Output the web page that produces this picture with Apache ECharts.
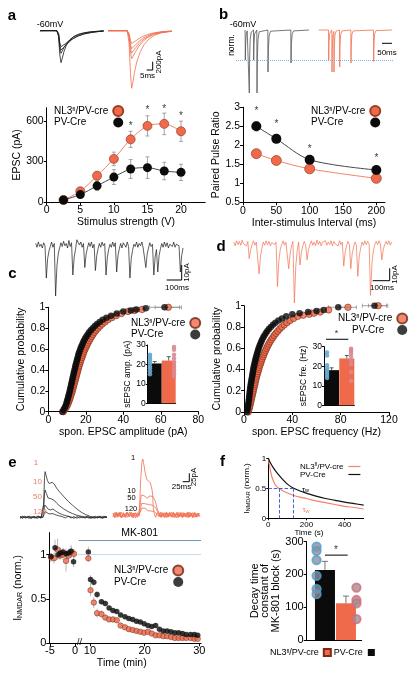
<!DOCTYPE html>
<html><head><meta charset="utf-8">
<script src="https://cdn.jsdelivr.net/npm/echarts@6/dist/echarts.min.js"></script>
<style>html,body{margin:0;padding:0;background:#fff}#c{width:414px;height:677px}</style>
</head><body><div id="c"></div>
<script>
// ---------------- DATA ----------------
// a: EPSC vs stimulus strength
const aVolt = [2.5,5,7.5,10,12.5,15,17.5,20];
const aNl3 = [15,80,195,320,465,565,580,525];
const aNl3Err = [10,15,30,50,60,75,80,75];
const aPv = [15,55,120,185,245,255,230,220];
const aPvErr = [8,15,35,55,70,80,65,60];
const aStarX = [12.5,15,17.5,20];
const aStarY = [565,680,688,640];
const aXTicks = [0,5,10,15,20];
const aYTicks = [0,300,600];
// a traces (ms, pA)
const aTrPv1 = [[0,0],[10,5],[14,0],[15.5,-150],[16.5,-600],[17.5,-800],[18.5,-700],[20,-520],[22,-360],[25,-230],[28,-150],[32,-90],[37,-50],[43,-25],[50,-10],[53,0]];
const aTrPv2 = [[0,0],[14,0],[15.5,-110],[16.5,-430],[17.5,-566],[18.5,-520],[20,-420],[22,-320],[25,-220],[28,-150],[32,-95],[37,-55],[43,-28],[50,-12],[53,-5]];
const aTrPv3 = [[0,0],[14,0],[15.5,-90],[16.5,-360],[17.5,-483],[19,-450],[21,-380],[24,-290],[27,-210],[31,-140],[36,-85],[42,-45],[48,-22],[53,-10]];
const aTrPv4 = [[0,0],[14,0],[15.5,-70],[16.5,-300],[17.5,-400],[19,-380],[21,-330],[24,-260],[28,-190],[32,-130],[37,-80],[43,-45],[48,-25],[53,-12]];
const aTrNl1 = [[0,0],[16,0],[17.5,-300],[18.8,-1100],[19.7,-1440],[20.7,-1300],[22,-1050],[24,-780],[27,-520],[30,-350],[34,-210],[39,-110],[45,-50],[53,-15]];
const aTrNl2 = [[0,0],[16,0],[17.5,-150],[18.8,-540],[19.7,-700],[21,-640],[23,-520],[26,-380],[29,-270],[33,-170],[38,-95],[44,-45],[53,-15]];
const aTrNl3 = [[0,0],[16,0],[17.5,-120],[18.8,-430],[19.7,-560],[21,-520],[23,-430],[26,-320],[29,-230],[33,-150],[38,-85],[44,-40],[53,-12]];
const aTrNl4 = [[0,0],[16,0],[17.5,-95],[18.8,-350],[19.7,-450],[21,-420],[23,-350],[26,-265],[29,-190],[33,-125],[38,-70],[44,-35],[53,-10]];
const aTrNl5 = [[0,0],[16,0],[17.5,-70],[18.8,-250],[19.7,-320],[21,-300],[23,-255],[26,-195],[29,-140],[33,-95],[38,-55],[44,-28],[53,-8]];

// b: paired pulse ratio
const bIsi = [20,50,100,200];
const bNl3 = [1.78,1.6,1.38,1.13];
const bNl3Err = [0.1,0.06,0.06,0.05];
const bPv = [2.5,2.17,1.62,1.35];
const bPvErr = [0.12,0.1,0.06,0.05];
const bStarY = [2.9,2.55,1.9,1.67];
const bXTicks = [0,50,100,150,200];
const bYTicks = [0.5,1,1.5,2,2.5,3];
const bTrPv = [[5,0],[6,-0.2],[6.5,-1.0],[8,-0.5],[11,-0.15],[16,-0.03],[25.5,0],[26.5,-2.1],[28,-1.0],[31,-0.3],[36,-0.07],[47.5,0],[48.5,-1.0],[50,-0.45],[53,-0.13],[64,0],[65,-2.1],[66.5,-1.0],[70,-0.3],[76,-0.06],[119,0],[120,-1.4],[122,-0.6],[126,-0.18],[133,-0.04],[234,0],[235,-1.1],[237,-0.45],[241,-0.13],[248,-0.03],[325,0]];
const bTrNl3 = [[33.5,0],[82.5,0],[83.5,-1.0],[85,-0.45],[88,-0.12],[99,0],[100,-1.4],[101.5,-0.65],[104,-0.2],[109,-0.05],[110,-1.4],[111.5,-0.65],[114,-0.2],[120,-0.04],[137.5,0],[138.5,-1.23],[140,-0.55],[143,-0.16],[150,-0.03],[194,0],[195,-1.1],[196.5,-0.5],[199.5,-0.14],[206,-0.03],[307.5,0],[308.5,-1.05],[310,-0.47],[313,-0.13],[320,-0.02],[400,0]];
const bNormLevel = -1;

// c: amplitude CDF
const cXTicks = [0,20,40,60,80];
const cdfYTicks = [0,0.2,0.4,0.6,0.8,1];
const cPvCdf = [[7.5,0],[8.2,0.02],[8.8,0.04],[9.3,0.06],[9.7,0.08],[10.0,0.1],[10.3,0.12],[10.6,0.14],[10.9,0.16],[11.2,0.18],[11.5,0.2],[11.7,0.22],[12.0,0.24],[12.2,0.26],[12.5,0.28],[12.7,0.3],[13.0,0.32],[13.2,0.34],[13.5,0.36],[13.7,0.38],[14.0,0.4],[14.3,0.42],[14.5,0.44],[14.8,0.46],[15.1,0.48],[15.4,0.5],[15.7,0.52],[16.0,0.54],[16.3,0.56],[16.7,0.58],[17.1,0.6],[17.5,0.62],[18.0,0.64],[18.5,0.66],[19.0,0.68],[19.6,0.7],[20.3,0.72],[21.0,0.74],[21.8,0.76],[22.7,0.78],[23.7,0.8],[24.8,0.82],[26.0,0.84],[27.4,0.86],[29.0,0.88],[31.0,0.9],[33.5,0.92],[36.5,0.94],[40,0.96],[44,0.97],[47,0.98],[52,0.99],[62,1]];
const cNl3Cdf = [[8.0,0],[8.8,0.02],[9.5,0.04],[10.1,0.06],[10.6,0.08],[11.0,0.1],[11.4,0.12],[11.8,0.14],[12.1,0.16],[12.5,0.18],[12.8,0.2],[13.1,0.22],[13.4,0.24],[13.7,0.26],[14.0,0.28],[14.3,0.3],[14.6,0.32],[14.9,0.34],[15.2,0.36],[15.5,0.38],[15.8,0.4],[16.1,0.42],[16.4,0.44],[16.8,0.46],[17.1,0.48],[17.5,0.5],[17.9,0.52],[18.3,0.54],[18.7,0.56],[19.1,0.58],[19.6,0.6],[20.1,0.62],[20.6,0.64],[21.2,0.66],[21.8,0.68],[22.4,0.7],[23.1,0.72],[23.8,0.74],[24.6,0.76],[25.5,0.78],[26.5,0.8],[27.6,0.82],[28.8,0.84],[30.2,0.86],[31.8,0.88],[33.8,0.9],[36.2,0.92],[39,0.94],[42.5,0.96],[46,0.97],[50,0.98],[64,1]];
const cCdfErr = [[62,1,8],[64,1,7],[47,0.98,4]];
const cBar = [20.5,22];
const cBarErr = [1,2];
const cDotPv = [25,24.5,23.5,22.5,21.5,20.5,19,18,16.5,15];
const cDotNl3 = [31,29,27.5,25,23,21,19,17,15.5,14];
const insetYTicks = [0,10,20,30];
const cTrace = [1,-1.5,2,-1,0.5,-2,1.5,-0.5,-22,-9,-4,-1,2,-1.5,1,-34,-14,-6,-2,1.5,-1,2.5,-0.5,1,-2,3,-1,1.5,-20,-8,-3,3.5,4,0,2,-1.5,1,-15,-6,-2,1.5,-1,2,-2,0.5,-17,-7,-2.5,1,-1.5,2,-0.5,1,-20,-8,-3,0.5,-1.5,2,-1,1.5,-18,-7,-2.5,1,-2,1.5,0,-1.5,2,-1,-22,-9,-3.5,0.5,-1,2,-1.5,1,-0.5,2,-2,-1,-15,-6,-2,1.5,-1,0.5,-20,-8,-3,-18,-7,-2.5,1,-1.5,2,-1,1.5,-2,0.5,1.5,-1,2,-1.5,0.5,1,-0.5,-18,-7,-2];

// d: frequency CDF
const dXTicks = [0,40,80,120];
const dPvCdf = [[2.5,0],[2.8,0.02],[3.1,0.04],[3.4,0.06],[3.6,0.08],[3.9,0.1],[4.1,0.12],[4.3,0.14],[4.5,0.16],[4.7,0.18],[4.9,0.2],[5.1,0.22],[5.4,0.24],[5.6,0.26],[5.9,0.28],[6.2,0.3],[6.5,0.32],[6.8,0.34],[7.1,0.36],[7.4,0.38],[7.7,0.4],[8.0,0.42],[8.4,0.44],[8.8,0.46],[9.2,0.48],[9.6,0.5],[10.1,0.52],[10.6,0.54],[11.1,0.56],[11.6,0.58],[12.2,0.6],[12.8,0.62],[13.5,0.64],[14.2,0.66],[15.0,0.68],[15.9,0.7],[16.9,0.72],[18.0,0.74],[19.2,0.76],[20.6,0.78],[22.2,0.8],[24.0,0.82],[26.0,0.84],[28.5,0.86],[31.5,0.88],[35,0.9],[40,0.92],[46,0.93],[53,0.94],[60,0.95],[66,0.96],[78,0.985],[108,1]];
const dNl3Cdf = [[3.5,0],[4.0,0.02],[4.5,0.04],[4.9,0.06],[5.3,0.08],[5.7,0.1],[6.1,0.12],[6.5,0.14],[6.9,0.16],[7.3,0.18],[7.7,0.2],[8.1,0.22],[8.5,0.24],[8.9,0.26],[9.3,0.28],[9.7,0.3],[10.1,0.32],[10.6,0.34],[11.1,0.36],[11.6,0.38],[12.1,0.4],[12.6,0.42],[13.2,0.44],[13.8,0.46],[14.4,0.48],[15.0,0.5],[15.7,0.52],[16.4,0.54],[17.1,0.56],[17.9,0.58],[18.7,0.6],[19.6,0.62],[20.5,0.64],[21.5,0.66],[22.6,0.68],[23.8,0.7],[25.0,0.72],[26.4,0.74],[27.9,0.76],[29.5,0.78],[31.3,0.8],[33.3,0.82],[35.5,0.84],[38,0.86],[41,0.88],[44.5,0.9],[49,0.91],[54,0.92],[58,0.93],[63,0.94],[70,0.96],[86,0.985],[111,1]];
const dCdfErr = [[78,0.985,8],[86,0.985,7],[108,1,10],[111,1,8],[60,0.95,4]];
const dBar = [18,24];
const dBarErr = [1.2,1.5];
const dDotPv = [27,25.5,20.5,19,18,17,16,15,14];
const dDotNl3 = [29,28.5,27.5,26.5,25,23,21,17,12.5];
const dSigLevel = 33.8, dStarLevel = 36.5;
const dTrace = [1,-2,2,-1,1.5,-1.5,2.5,-0.5,1,-2,1.5,-12,-5,-1,2,-1.5,1,-0.5,-24,-10,-4,1,-1.5,2,-1,1.5,-2,0.5,2,-1,1,-34,-14,-5,-1,2,-1.5,1,-0.5,-20,-8,-2,1.5,-47,-18,-6,1,-17,-7,-2,1.5,-1,-13,-5,-1,2,-1.5,1,-2,2.5,-1,1.5,-2,1,-0.5,2,-1.5,1,-1,2,-2,1.5,-0.5,1,-2,2,-1,1,-18,-7,-2,1.5,-1,-20,-8,-3,1,-1.5,-26,-10,-4,1,-1.5,2,-1,1.5,-0.5,-41,-16,-6,-1,1.5,-1,2,-0.5,-13,-5,-1,1.5,-1,2,-1.5,1];

// e: MK-801 block time course [t(min), I norm, sem]
const eBasePv = [[-4.8,0.98,0.04],[-4.0,1.08,0.09],[-3.4,1.0,0.05],[-2.9,1.02,0.06],[-2.4,1.03,0.05],[-1.8,1.01,0.06],[-1.3,1.02,0.05],[-0.8,1.04,0.07],[-0.3,0.92,0.06]];
const eBaseNl3 = [[-4.8,0.97,0.05],[-4.2,0.96,0.06],[-3.5,1.06,0.12],[-3.0,0.99,0.05],[-2.4,1.0,0.06],[-1.8,0.93,0.12],[-1.3,0.99,0.06],[-0.7,1.03,0.06],[-0.2,1.01,0.05]];
const ePostPv = [[9.7,1.03,0.06],[10.1,0.72,0.05],[10.7,0.69,0.04],[11.3,0.55,0.04],[12.1,0.47,0.03],[12.8,0.45,0.03],[13.5,0.40,0.02],[14.2,0.37,0.02],[14.9,0.36,0.02],[15.6,0.32,0.02],[16.4,0.30,0.02],[17.1,0.28,0.02],[17.8,0.27,0.02],[18.5,0.25,0.02],[19.2,0.24,0.02],[19.9,0.22,0.02],[20.6,0.20,0.02],[21.3,0.19,0.02],[22.0,0.20,0.02],[22.7,0.16,0.02],[23.4,0.14,0.02],[24.1,0.14,0.02],[24.8,0.13,0.02],[25.5,0.12,0.02],[26.2,0.12,0.02],[26.9,0.11,0.02],[27.6,0.10,0.02],[28.4,0.10,0.02],[29.1,0.10,0.02],[29.7,0.09,0.02]];
const ePostNl3 = [[9.7,0.96,0.04],[10.1,0.60,0.07],[10.7,0.46,0.06],[11.3,0.34,0.05],[12.1,0.33,0.04],[12.8,0.29,0.03],[13.5,0.27,0.03],[14.2,0.27,0.03],[14.9,0.26,0.02],[15.6,0.20,0.02],[16.4,0.18,0.02],[17.1,0.16,0.02],[17.8,0.15,0.02],[18.5,0.14,0.02],[19.2,0.13,0.02],[19.9,0.12,0.02],[20.6,0.13,0.02],[21.3,0.11,0.02],[22.0,0.09,0.02],[22.7,0.09,0.02],[23.4,0.08,0.02],[24.1,0.08,0.02],[24.8,0.07,0.02],[25.5,0.06,0.02],[26.2,0.06,0.02],[26.9,0.06,0.02],[27.6,0.06,0.02],[28.4,0.06,0.02],[29.1,0.05,0.02],[29.7,0.05,0.02]];
const eYTicks = [0,0.5,1];
const eXTicksPre = [-5,0];
const eXTicksPost = [10,20,30];
const eRefLevel = 1, eMkLevel = 1.158;
// e traces (ms, pA)
const eTrPv1 = [[0,2],[8,-3],[16,3],[24,-2],[32,3],[40,-3],[48,2],[56,-2],[64,3],[72,-2],[78,1],[81,40],[84,120],[86,137],[89,127],[94,110],[100,101],[106,100],[110,105],[113,107],[117,100],[125,88],[135,77],[150,62],[165,48],[180,36],[195,25],[210,15],[225,8],[240,3],[250,-2],[258,3],[266,-2],[274,2],[282,-3],[290,2],[298,0]];
const eTrPv10 = [[0,-2],[9,3],[18,-2],[27,2],[36,-3],[45,2],[54,-2],[63,3],[72,-2],[78,0],[81,30],[84,72],[86,82],[90,72],[96,58],[102,52],[108,55],[113,56],[118,50],[126,42],[136,34],[150,25],[165,17],[180,11],[195,6],[210,3],[220,-2],[230,2],[240,-3],[250,2],[260,-2],[270,3],[280,-2],[290,2],[298,-1]];
const eTrPv50 = [[0,3],[10,-2],[20,2],[30,-3],[40,2],[50,-2],[60,3],[70,-2],[78,0],[81,15],[85,37],[90,32],[97,24],[105,22],[113,25],[120,20],[130,14],[145,8],[160,4],[175,1],[185,-3],[195,2],[205,-2],[215,3],[225,-2],[235,2],[245,-3],[255,2],[265,-2],[275,3],[285,-2],[298,1]];
const eTrPv120 = [[0,-3],[10,2],[20,-2],[30,3],[40,-2],[50,2],[60,-3],[70,2],[78,-1],[82,8],[86,17],[92,14],[100,10],[110,11],[118,9],[130,5],[145,2],[155,-2],[165,3],[175,-2],[185,2],[195,-3],[205,2],[215,-2],[225,3],[235,-2],[245,2],[255,-3],[265,2],[275,-2],[285,3],[298,0]];
const eTrNl1 = [[0,6],[6,-7],[12,9],[18,-5],[24,8],[30,-9],[36,5],[42,-6],[48,9],[54,-4],[60,7],[66,-8],[72,6],[78,-5],[84,7],[88,-3],[91,25],[95,110],[99,158],[102,168],[106,150],[110,128],[116,106],[122,101],[128,97],[132,92],[135,70],[138,22],[141,4],[146,-7],[152,8],[158,-6],[164,9],[170,-5],[176,7],[182,-8],[188,6],[194,-4],[200,8],[206,-7],[212,5],[218,-9],[224,7],[230,-5],[236,8],[242,-6],[248,6],[254,-8],[260,9],[266,-5],[272,7],[278,-7],[284,5],[290,-6],[296,6]];
const eTrNl10 = [[0,-5],[7,8],[14,-7],[21,6],[28,-9],[35,7],[42,-4],[49,8],[56,-6],[63,5],[70,-8],[77,7],[84,-5],[89,4],[93,32],[97,60],[101,66],[106,58],[112,55],[118,50],[124,57],[130,52],[136,56],[142,48],[147,34],[152,17],[158,6],[164,-6],[170,7],[176,-8],[182,5],[188,-6],[194,9],[200,-4],[206,6],[212,-8],[218,7],[224,-5],[230,8],[236,-7],[242,4],[248,-6],[254,8],[260,-5],[266,6],[272,-8],[278,7],[284,-4],[290,6],[296,-5]];
const eTrNl50 = [[0,4],[7,-8],[14,6],[21,-5],[28,9],[35,-6],[42,5],[49,-7],[56,8],[63,-4],[70,6],[77,-9],[84,5],[90,-2],[94,16],[98,35],[103,40],[110,34],[116,37],[122,31],[128,35],[134,30],[140,32],[146,22],[152,12],[158,4],[164,-7],[170,6],[176,-5],[182,8],[188,-7],[194,5],[200,-6],[206,9],[212,-4],[218,6],[224,-8],[230,5],[236,-5],[242,7],[248,-6],[254,4],[260,-8],[266,7],[272,-4],[278,6],[284,-7],[290,5],[296,-3]];
const eTrNl120 = [[0,-6],[7,5],[14,-4],[21,8],[28,-6],[35,4],[42,-8],[49,6],[56,-5],[63,9],[70,-4],[77,6],[84,-7],[90,5],[95,12],[100,21],[106,15],[112,20],[118,13],[124,18],[130,12],[136,16],[142,10],[148,7],[154,-2],[160,6],[166,-7],[172,5],[178,-4],[184,8],[190,-6],[196,4],[202,-7],[208,6],[214,-5],[220,8],[226,-6],[232,4],[238,-8],[244,6],[250,-4],[256,7],[262,-6],[268,5],[274,-7],[280,8],[286,-5],[292,4],[298,-2]];

// f: decay fits and time constants
const fPvCurve = [[0,1],[10,0.93],[25,0.85],[50,0.74],[75,0.65],[100,0.57],[133,0.5],[170,0.45],[200,0.42],[250,0.37],[300,0.33],[350,0.3],[400,0.27],[450,0.245],[500,0.22]];
const fNl3Curve = [[0,1],[5,0.9],[12,0.78],[20,0.68],[30,0.6],[40,0.54],[55,0.5],[80,0.45],[110,0.41],[133,0.38],[170,0.35],[200,0.33],[250,0.29],[300,0.26],[350,0.23],[400,0.2],[450,0.18],[500,0.155]];
const fHalfPv = 133, fHalfNl3 = 55;
const fXTicks = [0,200,400];
const fYTicks = [0,0.5,1];
const fBar = [214,112];
const fBarErr = [26,22];
const fDotPv = [285,272,244,196,156,140];
const fDotNl3 = [160,122,112,64];
const fSigLevel = 259, fStarLevel = 275;
const fBarYTicks = [0,100,200,300];

// ---------------- STYLE / HELPERS ----------------
const FONT = '"Liberation Sans", Arial, Helvetica, sans-serif';
const OR = '#ef6a4a', OR_EDGE = '#9c3c25', OR_LINE = '#f2846a', BK = '#0b0b0b', BK_LINE = '#4a4a4a', ERRC = '#8f8f8f';
const BLUE = '#6aa8cf', PINK = '#d98893';
const ctx = document.createElement('canvas').getContext('2d');
function tw(s, fs) { ctx.font = fs + 'px ' + FONT; return ctx.measureText(s).width; }
function nl3W(fs) { return tw('NL3', fs) + tw('fl', fs * 0.62) + tw('/PV-cre', fs); }

function merge(a, b) {
  const out = Object.assign({}, a);
  for (const k in b) {
    if (b[k] && typeof b[k] === 'object' && !Array.isArray(b[k]) && a[k] && typeof a[k] === 'object' && !Array.isArray(a[k])) out[k] = merge(a[k], b[k]);
    else out[k] = b[k];
  }
  return out;
}
function axis(gi, min, max, ticks, fs, extra) {
  const base = {
    type: 'value', gridIndex: gi, min: min, max: max,
    axisLine: {show: true, onZero: false, lineStyle: {color: '#000', width: 1}},
    axisTick: ticks ? {show: true, length: 3, customValues: ticks, lineStyle: {color: '#000', width: 1}} : {show: false},
    axisLabel: ticks ? {show: true, customValues: ticks, color: '#000', fontSize: fs, margin: 3, fontFamily: FONT} : {show: false},
    splitLine: {show: false},
    nameLocation: 'middle',
    nameTextStyle: {color: '#000', fontSize: 10.5, fontFamily: FONT}
  };
  return merge(base, extra || {});
}
function hidden(gi, min, max) { return {type: 'value', gridIndex: gi, min: min, max: max, show: false}; }

function errBars(gi, pts, o) {
  o = o || {};
  return {
    type: 'custom', xAxisIndex: gi, yAxisIndex: gi, z: o.z || 1, silent: true, data: pts,
    encode: {x: 0, y: 1},
    renderItem: function (params, api) {
      const x = api.value(0), y = api.value(1), e = api.value(2);
      const cap = o.cap == null ? 2 : o.cap;
      const st = {stroke: o.color || ERRC, lineWidth: o.width || 0.8};
      const ch = [];
      if (o.horizontal) {
        const p = api.coord([x - e, y]), q = api.coord([x + e, y]);
        ch.push({type: 'line', shape: {x1: p[0], y1: p[1], x2: q[0], y2: q[1]}, style: st});
        if (cap) {
          ch.push({type: 'line', shape: {x1: p[0], y1: p[1] - cap, x2: p[0], y2: p[1] + cap}, style: st});
          ch.push({type: 'line', shape: {x1: q[0], y1: q[1] - cap, x2: q[0], y2: q[1] + cap}, style: st});
        }
      } else {
        const p = api.coord([x, o.up ? y : y - e]), q = api.coord([x, y + e]);
        ch.push({type: 'line', shape: {x1: p[0], y1: p[1], x2: q[0], y2: q[1]}, style: st});
        if (cap) {
          ch.push({type: 'line', shape: {x1: q[0] - cap, y1: q[1], x2: q[0] + cap, y2: q[1]}, style: st});
          if (!o.up) ch.push({type: 'line', shape: {x1: p[0] - cap, y1: p[1], x2: p[0] + cap, y2: p[1]}, style: st});
        }
      }
      return {type: 'group', children: ch};
    }
  };
}
function stars(gi, pts, fs) {
  return {type: 'scatter', xAxisIndex: gi, yAxisIndex: gi, data: pts, symbolSize: 1, clip: false, silent: true, z: 6,
    itemStyle: {color: 'rgba(0,0,0,0)'},
    label: {show: true, formatter: '*', position: 'inside', fontSize: fs, color: '#000', fontFamily: FONT}};
}
function trace(gi, data, color, w, extra) {
  return merge({type: 'line', xAxisIndex: gi, yAxisIndex: gi, data: data, symbol: 'none', silent: true, z: 2,
    lineStyle: {color: color, width: w || 0.8}}, extra || {});
}
function pair(xs, ys) { return xs.map((x, i) => [x, ys[i]]); }
function triple(xs, ys, es) { return xs.map((x, i) => [x, ys[i], es[i]]); }

// ---------------- LAYOUT ----------------
const grids = [
  {left: 46.7, top: 107.7, width: 158.5, height: 94.3},   // 0 a
  {left: 243, top: 107.3, width: 142, height: 95},        // 1 b
  {left: 48.3, top: 307.3, width: 150, height: 104.4},    // 2 c
  {left: 147.7, top: 345, width: 28, height: 58.3},       // 3 c inset
  {left: 244, top: 305.7, width: 145, height: 106.3},     // 4 d
  {left: 324, top: 346.7, width: 30.4, height: 58.6},     // 5 d inset
  {left: 49.3, top: 532.6, width: 28, height: 110.7},     // 6 e pre
  {left: 78.5, top: 532.6, width: 122.5, height: 110.7},  // 7 e post
  {left: 268.3, top: 458.3, width: 95.4, height: 60},     // 8 f fits
  {left: 306.7, top: 541.7, width: 55, height: 98.3},     // 9 f bars
  {left: 40, top: 26.7, width: 63.6, height: 66},         // 10 a PV traces
  {left: 108, top: 26.7, width: 63.6, height: 66},        // 11 a NL3 traces
  {left: 236, top: 24, width: 76, height: 75},            // 12 b PV traces
  {left: 312, top: 24, width: 82, height: 75},            // 13 b NL3 traces
  {left: 35.7, top: 230, width: 147.3, height: 75},       // 14 c trace
  {left: 233.7, top: 228.1, width: 158, height: 78.7},    // 15 d trace
  {left: 20, top: 467.3, width: 87, height: 53.3},        // 16 e PV traces
  {left: 113, top: 455, width: 87, height: 65},           // 17 e NL3 traces
  {left: 0, top: 0, width: 5, height: 5}                  // 18 legend helper
].map(g => Object.assign({outerBoundsMode: 'none', containLabel: false}, g));

const xAxes = [
  axis(0, 0, 23.6, aXTicks, 10.5, {name: 'Stimulus strength (V)', nameGap: 14}),
  axis(1, 0, 213, bXTicks, 10.5, {name: 'Inter-stimulus Interval (ms)', nameGap: 14}),
  axis(2, 0, 80, cXTicks, 10.5, {name: 'spon. EPSC amplitude (pA)', nameGap: 13}),
  axis(3, 0.5, 2.5, null, 8.5),
  axis(4, 0, 120, dXTicks, 10.5, {name: 'spon. EPSC frequency (Hz)', nameGap: 13}),
  axis(5, 0.5, 2.5, null, 8.5),
  axis(6, -5.14, 0.45, eXTicksPre, 11, {axisLabel: {margin: 2}}),
  axis(7, 7.9, 30.3, eXTicksPost, 11, {axisLabel: {margin: 2}, name: 'Time (min)', nameGap: 12, nameTextStyle: {padding: [0, 36, 0, 0]}}),
  axis(8, 0, 500, fXTicks, 8, {axisLabel: {margin: 2}, axisTick: {length: 2}, name: 'Time (s)', nameGap: 9, nameTextStyle: {fontSize: 8, padding: [0, 14, 0, 0]}}),
  axis(9, 0.13, 2.75, null, 10),
  hidden(10, 0, 53), hidden(11, 0, 53), hidden(12, -40, 340), hidden(13, 0, 410),
  hidden(14, 0, 111), hidden(15, 0, 112), hidden(16, 0, 298), hidden(17, 0, 298), hidden(18, 0, 1)
];
const nmdarRich = (fs) => ({i: {fontSize: fs, fontFamily: FONT, color: '#000'}, sub: {fontSize: fs * 0.68, fontFamily: FONT, color: '#000', verticalAlign: 'bottom'}});
const yAxes = [
  axis(0, 0, 700, aYTicks, 10.5, {name: 'EPSC (pA)', nameGap: 17}),
  axis(1, 0.5, 3, bYTicks, 10.5, {name: 'Paired Pulse Ratio', nameGap: 17.5}),
  axis(2, 0, 1, cdfYTicks, 10.5, {name: 'Cumulative probability', nameGap: 18}),
  axis(3, 0, 30, insetYTicks, 8.5, {axisLabel: {margin: 2}, axisTick: {length: 2}, name: 'sEPSC amp. (pA)', nameGap: 12, nameTextStyle: {fontSize: 8.5}}),
  axis(4, 0, 1, cdfYTicks, 10.5, {name: 'Cumulative probability', nameGap: 17}),
  axis(5, 0, 30, insetYTicks, 8.5, {axisLabel: {margin: 2}, axisTick: {length: 2}, name: 'sEPSC fre. (Hz)', nameGap: 12, nameTextStyle: {fontSize: 8.5}}),
  axis(6, 0, 1.25, eYTicks, 11, {name: '{i|I}{sub|NMDAR}{i| (norm.)}', nameGap: 26, nameTextStyle: {rich: nmdarRich(10.5)}}),
  hidden(7, 0, 1.25),
  axis(8, 0, 1, fYTicks, 8, {axisLabel: {margin: 2}, axisTick: {length: 2}, name: '{i|I}{sub|NMDAR}{i| (norm.)}', nameGap: 12, nameTextStyle: {fontSize: 8, rich: nmdarRich(8)}}),
  axis(9, 0, 300, fBarYTicks, 11, {name: 'Decay time\nconstant of\nMK-801 block (s)', nameGap: 22, nameTextStyle: {fontSize: 11, lineHeight: 10.5}}),
  hidden(10, -1550, 100), hidden(11, -1550, 100), hidden(12, -2.3, 0.2), hidden(13, -2.3, 0.2),
  hidden(14, -40, 10), hidden(15, -50, 12), hidden(16, -10, 150), hidden(17, -15, 180), hidden(18, 0, 1)
];

// ---------------- SERIES ----------------
const series = [];
const orangeItem = {color: OR, borderColor: OR_EDGE, borderWidth: 0.7};
const blackItem = {color: BK};
// a
series.push(errBars(0, triple(aVolt, aNl3, aNl3Err), {cap: 2}));
series.push(errBars(0, triple(aVolt, aPv, aPvErr), {cap: 2}));
series.push({type: 'line', name: 'a_nl3', xAxisIndex: 0, yAxisIndex: 0, data: pair(aVolt, aNl3), smooth: 0.3, symbol: 'circle', symbolSize: 9, z: 3,
  lineStyle: {color: OR_LINE, width: 1}, itemStyle: orangeItem});
series.push({type: 'line', name: 'a_pv', xAxisIndex: 0, yAxisIndex: 0, data: pair(aVolt, aPv), smooth: 0.3, symbol: 'circle', symbolSize: 9, z: 3,
  lineStyle: {color: BK_LINE, width: 1}, itemStyle: blackItem});
series.push(stars(0, pair(aStarX, aStarY), 10));
// b
series.push(errBars(1, triple(bIsi, bNl3, bNl3Err), {cap: 2}));
series.push(errBars(1, triple(bIsi, bPv, bPvErr), {cap: 2}));
series.push({type: 'line', name: 'b_nl3', xAxisIndex: 1, yAxisIndex: 1, data: pair(bIsi, bNl3), smooth: 0.3, symbol: 'circle', symbolSize: 10, z: 3,
  lineStyle: {color: OR_LINE, width: 1}, itemStyle: orangeItem});
series.push({type: 'line', name: 'b_pv', xAxisIndex: 1, yAxisIndex: 1, data: pair(bIsi, bPv), smooth: 0.3, symbol: 'circle', symbolSize: 10, z: 3,
  lineStyle: {color: BK_LINE, width: 1}, itemStyle: blackItem});
series.push(stars(1, pair(bIsi, bStarY), 10));
// c
series.push(errBars(2, cCdfErr, {horizontal: true, cap: 2}));
series.push({type: 'scatter', name: 'c_nl3', xAxisIndex: 2, yAxisIndex: 2, data: cNl3Cdf, symbolSize: 6.5, z: 3, itemStyle: {color: OR, borderColor: '#6b2412', borderWidth: 0.7}});
series.push({type: 'scatter', name: 'c_pv', xAxisIndex: 2, yAxisIndex: 2, data: cPvCdf, symbolSize: 6.5, z: 4, itemStyle: blackItem});
series.push({type: 'bar', xAxisIndex: 3, yAxisIndex: 3, barWidth: 14, z: 2, silent: true,
  data: [{value: [1, cBar[0]], itemStyle: {color: BK}}, {value: [2, cBar[1]], itemStyle: {color: OR}}]});
series.push(errBars(3, [[1, cBar[0], cBarErr[0]], [2, cBar[1], cBarErr[1]]], {cap: 2, up: true, color: '#333', z: 3}));
series.push({type: 'scatter', xAxisIndex: 3, yAxisIndex: 3, data: cDotPv.map(v => [0.66, v]), symbolSize: 4.5, z: 4, silent: true, itemStyle: {color: BLUE, opacity: 0.9}});
series.push({type: 'scatter', xAxisIndex: 3, yAxisIndex: 3, data: cDotNl3.map(v => [2.38, v]), symbolSize: 4.5, z: 4, silent: true, itemStyle: {color: PINK, opacity: 0.9}});
// d
series.push(errBars(4, dCdfErr, {horizontal: true, cap: 2}));
series.push({type: 'scatter', name: 'd_nl3', xAxisIndex: 4, yAxisIndex: 4, data: dNl3Cdf, symbolSize: 6.5, z: 3, itemStyle: {color: OR, borderColor: '#6b2412', borderWidth: 0.7}});
series.push({type: 'scatter', name: 'd_pv', xAxisIndex: 4, yAxisIndex: 4, data: dPvCdf, symbolSize: 6.5, z: 4, itemStyle: blackItem});
series.push({type: 'bar', xAxisIndex: 5, yAxisIndex: 5, barWidth: 15, z: 2, silent: true,
  data: [{value: [1, dBar[0]], itemStyle: {color: BK}}, {value: [2, dBar[1]], itemStyle: {color: OR}}]});
series.push(errBars(5, [[1, dBar[0], dBarErr[0]], [2, dBar[1], dBarErr[1]]], {cap: 2, up: true, color: '#333', z: 3}));
series.push({type: 'scatter', xAxisIndex: 5, yAxisIndex: 5, data: dDotPv.map(v => [0.7, v]), symbolSize: 4.5, z: 4, silent: true, itemStyle: {color: BLUE, opacity: 0.9}});
series.push({type: 'scatter', xAxisIndex: 5, yAxisIndex: 5, data: dDotNl3.map(v => [2.28, v]), symbolSize: 4.5, z: 4, silent: true, itemStyle: {color: PINK, opacity: 0.9}});
series.push({type: 'line', xAxisIndex: 5, yAxisIndex: 5, data: [[0.63, dSigLevel], [2.1, dSigLevel]], symbol: 'none', clip: false, silent: true, lineStyle: {color: '#000', width: 1}});
series.push(stars(5, [[1.33, dStarLevel]], 9));
// e
series.push(errBars(6, eBaseNl3, {cap: 0, color: '#aaa'}));
series.push(errBars(6, eBasePv, {cap: 0, color: '#aaa'}));
series.push(errBars(7, ePostNl3, {cap: 0, color: '#aaa'}));
series.push(errBars(7, ePostPv, {cap: 0, color: '#aaa'}));
series.push({type: 'scatter', name: 'e_nl3', xAxisIndex: 6, yAxisIndex: 6, data: eBaseNl3, symbolSize: 5.5, z: 3, itemStyle: {color: OR, borderColor: '#6b2412', borderWidth: 0.6}});
series.push({type: 'scatter', name: 'e_pv', xAxisIndex: 6, yAxisIndex: 6, data: eBasePv, symbolSize: 5.5, z: 4, itemStyle: blackItem});
series.push({type: 'scatter', name: 'e_nl3', xAxisIndex: 7, yAxisIndex: 7, data: ePostNl3, symbolSize: 5.5, z: 3, itemStyle: {color: OR, borderColor: '#6b2412', borderWidth: 0.6}});
series.push({type: 'scatter', name: 'e_pv', xAxisIndex: 7, yAxisIndex: 7, data: ePostPv, symbolSize: 5.5, z: 4, itemStyle: blackItem,
  markLine: {silent: true, symbol: 'none', animation: false, data: [
    {yAxis: eRefLevel, lineStyle: {type: 'dotted', color: '#8ab8dc', width: 1}, label: {show: false}},
    {yAxis: eMkLevel, lineStyle: {type: 'solid', color: '#7097b6', width: 1.2},
      label: {show: true, formatter: 'MK-801', position: 'insideMiddleTop', distance: 2, color: '#000', fontSize: 10.5, fontFamily: FONT}}
  ]}});
// f fits
series.push({type: 'line', name: 'f_nl3', xAxisIndex: 8, yAxisIndex: 8, data: fNl3Curve, smooth: 0.3, symbol: 'none', z: 3,
  itemStyle: {color: OR_LINE}, lineStyle: {color: OR_LINE, width: 1.2}});
series.push({type: 'line', name: 'f_pv', xAxisIndex: 8, yAxisIndex: 8, data: fPvCurve, smooth: 0.3, symbol: 'none', z: 3,
  itemStyle: {color: '#111'}, lineStyle: {color: '#111', width: 1.2},
  markLine: {silent: true, symbol: 'none', animation: false, lineStyle: {type: 'dashed', color: '#2f57c4', width: 0.9}, label: {show: false}, data: [
    [{coord: [0, 0.5]}, {coord: [fHalfPv, 0.5]}],
    [{coord: [fHalfNl3, 0.5]}, {coord: [fHalfNl3, 0]}],
    [{coord: [fHalfPv, 0.5]}, {coord: [fHalfPv, 0]}]
  ]}});
// f bars
series.push({type: 'bar', xAxisIndex: 9, yAxisIndex: 9, barWidth: 20, z: 2, silent: true,
  data: [{value: [1, fBar[0]], itemStyle: {color: BK}}, {value: [2, fBar[1]], itemStyle: {color: OR}}]});
series.push(errBars(9, [[1, fBar[0], fBarErr[0]], [2, fBar[1], fBarErr[1]]], {cap: 3, up: true, color: '#555', z: 3}));
series.push({type: 'scatter', xAxisIndex: 9, yAxisIndex: 9, data: fDotPv.map(v => [0.6, v]), symbolSize: 8.5, z: 4, silent: true, itemStyle: {color: '#8d8f99', borderColor: '#4aa0d5', borderWidth: 1.8}});
series.push({type: 'scatter', xAxisIndex: 9, yAxisIndex: 9, data: fDotNl3.map(v => [2.5, v]), symbolSize: 8.5, z: 4, silent: true, itemStyle: {color: '#9a9092', borderColor: '#df6677', borderWidth: 1.8}});
series.push({type: 'line', xAxisIndex: 9, yAxisIndex: 9, data: [[1, fSigLevel], [2.08, fSigLevel]], symbol: 'none', silent: true, lineStyle: {color: '#000', width: 1}});
series.push(stars(9, [[1.52, fStarLevel]], 10));
// legend helper series for bottom legend
series.push({type: 'line', name: 'fb_nl3', xAxisIndex: 18, yAxisIndex: 18, data: [], itemStyle: {color: OR, borderColor: '#7a2a15', borderWidth: 0.5}});
series.push({type: 'line', name: 'fb_pv', xAxisIndex: 18, yAxisIndex: 18, data: [], itemStyle: {color: BK}});
// traces
[aTrPv1, aTrPv2, aTrPv3, aTrPv4].forEach(d => series.push(trace(10, d, '#1a1a1a', 0.8)));
[aTrNl1, aTrNl2, aTrNl3, aTrNl4, aTrNl5].forEach(d => series.push(trace(11, d, '#f0704f', 0.8)));
const normLine = {markLine: {silent: true, symbol: 'none', animation: false, label: {show: false}, lineStyle: {type: 'dotted', color: '#7fb2d9', width: 1}, data: [{yAxis: bNormLevel}]}};
series.push(trace(12, bTrPv, '#555', 0.8, normLine));
series.push(trace(13, bTrNl3, '#f0704f', 0.8, normLine));
series.push(trace(14, cTrace.map((v, i) => [i, v]), '#1a1a1a', 0.7));
series.push(trace(15, dTrace.map((v, i) => [i, v]), '#f0704f', 0.7));
[eTrPv1, eTrPv10, eTrPv50, eTrPv120].forEach(d => series.push(trace(16, d, '#2a2a2a', 0.8)));
[eTrNl120, eTrNl50, eTrNl10, eTrNl1].forEach(d => series.push(trace(17, d, '#f0704f', 0.8)));

// ---------------- LEGENDS ----------------
function legendRich(fs, w, indent) {
  return {
    t: {fontSize: fs, fontFamily: FONT, color: '#000'},
    s: {fontSize: fs * 0.62, fontFamily: FONT, color: '#000', verticalAlign: 'top'},
    w: {fontSize: fs, fontFamily: FONT, color: '#000', width: w - (indent || 0), padding: [0, 0, 0, indent || 0], align: 'left'}
  };
}
function legendLabel(name) { return /nl3/.test(name) ? '{t|NL3}{s|fl}{t|/PV-cre}' : '{w|PV-Cre}'; }
function leg(names, left, top, fs, icon, extra, indent) {
  return merge({
    show: true, orient: 'vertical', align: 'right', left: left, top: top, padding: 0, itemGap: 0.5,
    itemWidth: 10, itemHeight: 10, icon: icon, data: names, selectedMode: false,
    formatter: legendLabel,
    textStyle: {fontSize: fs, fontFamily: FONT, color: '#000', rich: legendRich(fs, nl3W(fs), indent)}
  }, extra || {});
}
const legends = [
  leg(['a_nl3', 'a_pv'], 54, 105, 10, 'circle'),
  leg(['b_nl3', 'b_pv'], 311, 105, 10, 'circle'),
  leg(['c_nl3', 'c_pv'], 131, 317, 10, 'circle'),
  leg(['d_nl3', 'd_pv'], 338, 312.5, 10, 'circle', null, 14),
  leg(['e_nl3', 'e_pv'], 114, 564.5, 10, 'circle'),
  leg(['f_nl3', 'f_pv'], 300, 462.5, 8, 'path://M0,0H20V2H0Z', {itemWidth: 12, itemHeight: 9, itemGap: 0}),
  leg(['fb_nl3', 'fb_pv'], 270, 648, 9, 'rect', {orient: 'horizontal', itemWidth: 7, itemHeight: 7, itemGap: 2,
    formatter: n => /nl3/.test(n) ? '{t|NL3}{s|fl}{t|/PV-cre}' : '{t|PV-Cre}'})
];

// ---------------- ANNOTATIONS ----------------
function T(x, y, text, fs, o) {
  o = o || {};
  return {type: 'text', x: x, y: y, rotation: o.rot ? Math.PI / 2 : 0, z: 100, silent: true,
    style: {text: text, fontSize: fs, fontFamily: FONT, fill: o.color || '#000', align: 'center', verticalAlign: 'middle',
      fontWeight: o.bold ? 'bold' : 'normal', rich: o.rich}};
}
function L(x1, y1, x2, y2, w) {
  return {type: 'line', z: 100, silent: true, shape: {x1: x1, y1: y1, x2: x2, y2: y2}, style: {stroke: '#000', lineWidth: w || 1}};
}
const tauRich = {s: {fontSize: 5.5, fontFamily: FONT, verticalAlign: 'bottom'}};
const graphics = [
  T(12, 16, 'a', 15, {bold: true}), T(223.5, 15, 'b', 15, {bold: true}), T(12.5, 274, 'c', 15, {bold: true}),
  T(221, 247, 'd', 15, {bold: true}), T(12.5, 463, 'e', 15, {bold: true}), T(222.5, 462, 'f', 15, {bold: true}),
  T(50, 25, '-60mV', 9), T(243, 25, '-60mV', 9), T(232, 45, 'norm.', 8.5, {rot: true}),
  L(152.7, 61.7, 152.7, 70), L(146.7, 70, 152.7, 70), T(147.5, 75.5, '5ms', 8), T(158.5, 62, '200pA', 8, {rot: true}),
  L(382, 43.3, 392, 43.3), T(387, 53, '50ms', 8),
  L(181.7, 265, 181.7, 280), L(166.7, 280, 181.7, 280), T(177, 287.5, '100ms', 8), T(186.5, 272.5, '10pA', 8, {rot: true}),
  L(389.7, 268.3, 389.7, 280.7), L(372.7, 280.7, 389.7, 280.7), T(382, 288, '100ms', 8), T(394.5, 274.5, '10pA', 8, {rot: true}),
  L(189.3, 473.3, 189.3, 481.7), L(182.7, 481.7, 189.3, 481.7), T(181.5, 487, '25ms', 8), T(194, 477, '25pA', 8, {rot: true}),
  T(36, 463, '1', 8, {color: '#e9806a'}), T(37.5, 482, '10', 8, {color: '#e9806a'}), T(37.5, 497, '50', 8, {color: '#e9806a'}), T(40, 512, '120', 8, {color: '#e9806a'}),
  T(133, 458, '1', 7.5), T(131.5, 491, '10', 7.5), T(131.5, 497.5, '50', 7.5), T(131, 509, '120', 7.5),
  T(79.5, 643, '//', 9),
  T(305.5, 489.5, 'τ{s|w}', 8, {rich: tauRich}), T(306, 510, 'τ{s|w}', 8, {rich: tauRich, color: OR_LINE})
];

const chart = echarts.init(document.getElementById('c'), null, {renderer: 'canvas', width: 414, height: 677});
chart.setOption({
  animation: false,
  backgroundColor: '#fff',
  textStyle: {fontFamily: FONT},
  grid: grids, xAxis: xAxes, yAxis: yAxes,
  legend: legends,
  series: series,
  graphic: {elements: graphics}
});
</script></body></html>
